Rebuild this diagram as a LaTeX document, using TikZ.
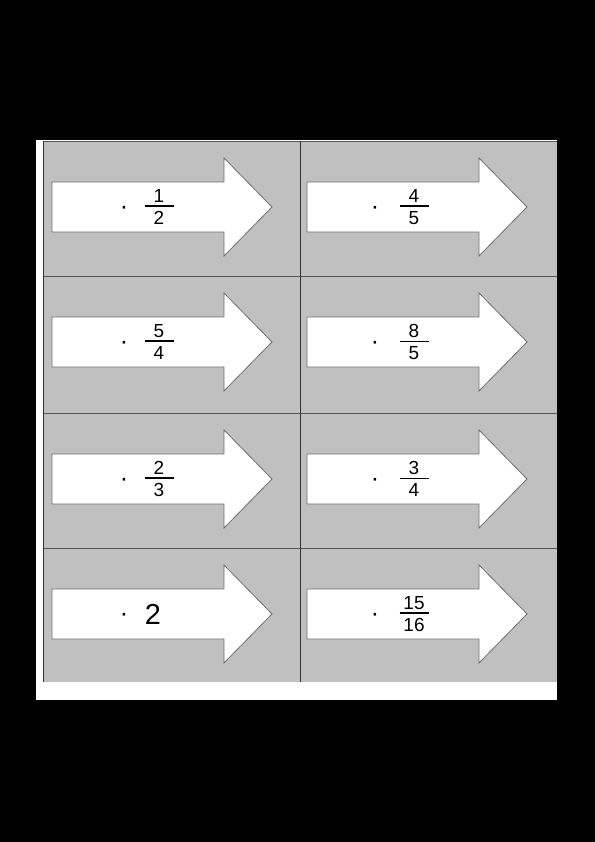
\documentclass[tikz,border=0pt]{standalone}
\usepackage{fontspec}
\setmainfont{Liberation Sans}
\usepackage{tikz}
\usetikzlibrary{positioning}
\definecolor{cardgray}{RGB}{192,192,192}
\definecolor{gridcol}{RGB}{85,85,85}
\definecolor{arrowcol}{RGB}{110,110,110}
\newcommand\cardfrac[2]{\vbox{\hbox to 29bp{\hss#1\hss}\kern3bp
  \hrule height 1.2bp\kern5bp\hbox to 29bp{\hss#2\hss}}}

\begin{document}
\begin{tikzpicture}[x=1bp, y=-1bp,
  cardarrow/.pic={\draw[arrowcol, fill=white, line width=0.8bp]
    (0,-25) -- (172,-25) -- (172,-49) -- (220,0) -- (172,49)
    -- (172,25) -- (0,25) -- cycle;},
  factor/.style={inner sep=0pt, font=\fontsize{19}{21}\selectfont},
  bigfactor/.style={inner sep=0pt, font=\fontsize{29}{32}\selectfont},
  dotsym/.style={inner sep=0pt, font=\fontsize{25}{27}\selectfont},
  grid/.style={gridcol, line width=0.8bp},
]
% page and card sheet
\fill[black] (0,0) rectangle (595,842);
\fill[white] (36,140) rectangle (557,700);
\fill[cardgray] (43,141) rectangle (557,682);
\draw[grid] (43,141) -- (557,141);
\draw[grid] (43,276) -- (557,276);
\draw[grid] (43,413) -- (557,413);
\draw[grid] (43,548) -- (557,548);
\draw[grid, black!80] (43,141) -- (43,682);
\draw[grid, black!80] (300,141) -- (300,682);

% left column
\pic at (52,207) {cardarrow};
\node[dotsym] (d1) at (124,210.2) {·};
\node[factor] (f1) at (159,207) {\cardfrac{1}{2}};
\pic at (52,342) {cardarrow};
\node[dotsym] (d2) at (124,345.2) {·};
\node[factor] (f2) at (159,342) {\cardfrac{5}{4}};
\pic at (52,479) {cardarrow};
\node[dotsym] (d3) at (124,482.2) {·};
\node[factor] (f3) at (159,479) {\cardfrac{2}{3}};
\pic at (52,614) {cardarrow};
\node[dotsym] (d4) at (124,617.2) {·};
\node[bigfactor] (f4) at (153,614) {2};

% right column
\pic at (307,207) {cardarrow};
\node[dotsym] (d5) at (375,210.2) {·};
\node[factor] (f5) at (414,207) {\cardfrac{4}{5}};
\pic at (307,342) {cardarrow};
\node[dotsym] (d6) at (375,345.2) {·};
\node[factor] (f6) at (414,342) {\cardfrac{8}{5}};
\pic at (307,479) {cardarrow};
\node[dotsym] (d7) at (375,482.2) {·};
\node[factor] (f7) at (414,479) {\cardfrac{3}{4}};
\pic at (307,614) {cardarrow};
\node[dotsym] (d8) at (375,617.2) {·};
\node[factor] (f8) at (414,614) {\cardfrac{15}{16}};
\end{tikzpicture}
\end{document}
